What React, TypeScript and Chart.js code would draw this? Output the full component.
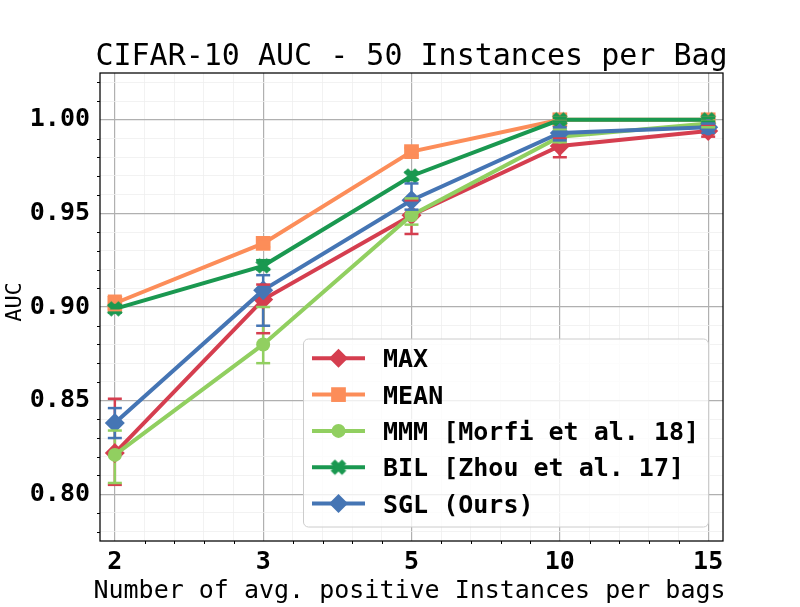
import React, { useEffect, useRef } from 'react';
import { Chart, registerables } from 'chart.js';

Chart.register(...registerables);

// ---------- data ----------
const CATEGORIES = ['2', '3', '5', '10', '15'];
const Y_TICK_LABELS = ['0.80', '0.85', '0.90', '0.95', '1.00'];
const SERIES_NAMES = ['MAX', 'MEAN', 'MMM [Morfi et al. 18]', 'BIL [Zhou et al. 17]', 'SGL (Ours)'];

const MAX_AUC = [0.822, 0.904, 0.949, 0.986, 0.994];
const MEAN_AUC = [0.902, 0.934, 0.983, 1.0, 1.0];
const MMM_AUC = [0.821, 0.88, 0.949, 0.991, 0.998];
const BIL_AUC = [0.899, 0.922, 0.97, 1.0, 1.0];
const SGL_AUC = [0.838, 0.909, 0.957, 0.993, 0.996];

const MAX_LO = [0.805, 0.886, 0.939, 0.98, 0.991];
const MAX_HI = [0.851, 0.912, 0.957, 0.99, 0.997];
const MEAN_LO = [0.898, 0.932, 0.981, 0.999, 0.999];
const MEAN_HI = [0.906, 0.936, 0.985, 1.001, 1.001];
const MMM_LO = [0.806, 0.87, 0.944, 0.988, 0.996];
const MMM_HI = [0.834, 0.9, 0.958, 0.995, 0.999];
const BIL_LO = [0.897, 0.92, 0.968, 0.999, 0.999];
const BIL_HI = [0.901, 0.925, 0.972, 1.001, 1.001];
const SGL_LO = [0.83, 0.89, 0.952, 0.989, 0.993];
const SGL_HI = [0.846, 0.917, 0.966, 0.996, 0.998];

const SERIES_VALUES = [MAX_AUC, MEAN_AUC, MMM_AUC, BIL_AUC, SGL_AUC];
const SERIES_LO = [MAX_LO, MEAN_LO, MMM_LO, BIL_LO, SGL_LO];
const SERIES_HI = [MAX_HI, MEAN_HI, MMM_HI, BIL_HI, SGL_HI];

// ---------- styles ----------
const COLORS = ['#d53e4f', '#fc8d59', '#91cf60', '#1a9850', '#4575b4'];
const MARKERS = ['rectRot', 'rect', 'circle', 'X', 'rectRot'];
const RADII = [10, 10.4, 7, 9, 10];
const MONO = "'DejaVu Sans Mono', monospace";

function makeXMarker(color: string): HTMLCanvasElement {
  const size = 18;
  const c = document.createElement('canvas');
  c.width = size;
  c.height = size;
  const g = c.getContext('2d')!;
  g.translate(size / 2, size / 2);
  g.rotate(Math.PI / 4);
  g.fillStyle = color;
  const s = 8, t = 3;
  g.beginPath();
  g.moveTo(-t, -s); g.lineTo(t, -s); g.lineTo(t, -t); g.lineTo(s, -t); g.lineTo(s, t); g.lineTo(t, t);
  g.lineTo(t, s); g.lineTo(-t, s); g.lineTo(-t, t); g.lineTo(-s, t); g.lineTo(-s, -t); g.lineTo(-t, -t);
  g.closePath();
  g.fill();
  return c;
}

function drawMarker(ctx: CanvasRenderingContext2D, type: any, x: number, y: number, r: number, color: string) {
  ctx.save();
  ctx.fillStyle = color;
  if (typeof type !== 'string') {
    ctx.drawImage(type, x - type.width / 2, y - type.height / 2);
  } else if (type === 'rectRot') {
    ctx.beginPath();
    ctx.moveTo(x, y - r); ctx.lineTo(x + r, y); ctx.lineTo(x, y + r); ctx.lineTo(x - r, y);
    ctx.closePath(); ctx.fill();
  } else if (type === 'rect') {
    const h = r * Math.SQRT1_2;
    ctx.fillRect(x - h, y - h, 2 * h, 2 * h);
  } else {
    ctx.beginPath(); ctx.arc(x, y, r, 0, Math.PI * 2); ctx.fill();
  }
  ctx.restore();
}

const isInt = (v: number) => Math.abs(v - Math.round(v)) < 1e-6;
const isMajorY = (v: number) => Math.abs(v * 20 - Math.round(v * 20)) < 1e-6;

export default function App() {
  const ref = useRef<HTMLCanvasElement>(null);

  useEffect(() => {
    if (!ref.current) return;
    const xMarker = makeXMarker(COLORS[3]);
    const styles = MARKERS.map((m) => (m === 'X' ? xMarker : m));

    const decor = {
      id: 'decor',
      beforeDatasetsDraw(chart: any) {
        const ctx = chart.ctx as CanvasRenderingContext2D;
        const xs = chart.scales.x, ys = chart.scales.y;
        ctx.save();
        ctx.lineWidth = 2.5;
        SERIES_VALUES.forEach((_, i) => {
          ctx.strokeStyle = COLORS[i];
          CATEGORIES.forEach((_c, j) => {
            const px = xs.getPixelForValue(j);
            ctx.beginPath();
            ctx.moveTo(px, ys.getPixelForValue(SERIES_LO[i][j]));
            ctx.lineTo(px, ys.getPixelForValue(SERIES_HI[i][j]));
            ctx.stroke();
          });
        });
        ctx.restore();
      },
      afterDatasetsDraw(chart: any) {
        const ctx = chart.ctx as CanvasRenderingContext2D;
        const xs = chart.scales.x, ys = chart.scales.y;
        ctx.save();
        ctx.lineWidth = 2.5;
        SERIES_VALUES.forEach((_, i) => {
          ctx.strokeStyle = COLORS[i];
          CATEGORIES.forEach((_c, j) => {
            const px = xs.getPixelForValue(j);
            [SERIES_LO[i][j], SERIES_HI[i][j]].forEach((v) => {
              const py = ys.getPixelForValue(v);
              ctx.beginPath();
              ctx.moveTo(px - 7, py);
              ctx.lineTo(px + 7, py);
              ctx.stroke();
            });
          });
        });
        ctx.restore();
      },
      afterDraw(chart: any) {
        const ctx = chart.ctx as CanvasRenderingContext2D;
        const { left, right, top, bottom } = chart.chartArea;
        const xs = chart.scales.x, ys = chart.scales.y;
        ctx.save();
        // spines
        ctx.strokeStyle = '#000';
        ctx.lineWidth = 1.25;
        ctx.strokeRect(left, top, right - left, bottom - top);
        // minor tick marks
        ctx.lineWidth = 1;
        ys.ticks.forEach((t: any) => {
          if (isMajorY(t.value)) return;
          const py = Math.round(ys.getPixelForValue(t.value)) + 0.5;
          ctx.beginPath(); ctx.moveTo(left - 3, py); ctx.lineTo(left, py); ctx.stroke();
        });
        xs.ticks.forEach((t: any) => {
          if (isInt(t.value)) return;
          const px = Math.round(xs.getPixelForValue(t.value)) + 0.5;
          ctx.beginPath(); ctx.moveTo(px, bottom); ctx.lineTo(px, bottom + 3); ctx.stroke();
        });
        // title & axis labels
        ctx.fillStyle = '#000';
        ctx.textAlign = 'center';
        ctx.textBaseline = 'alphabetic';
        ctx.font = `30px ${MONO}`;
        ctx.fillText('CIFAR-10 AUC - 50 Instances per Bag', (left + right) / 2, 65);
        ctx.font = `25px ${MONO}`;
        ctx.fillText('Number of avg. positive Instances per bags', (left + right) / 2 - 2, 598);
        ctx.save();
        ctx.translate(21, 302);
        ctx.rotate(-Math.PI / 2);
        ctx.font = `22px ${MONO}`;
        ctx.fillText('AUC', 0, 0);
        ctx.restore();
        // legend
        const bx = 303.5, by = 339, bw = 405, bh = 188, rr = 5;
        ctx.beginPath();
        ctx.moveTo(bx + rr, by);
        ctx.arcTo(bx + bw, by, bx + bw, by + bh, rr);
        ctx.arcTo(bx + bw, by + bh, bx, by + bh, rr);
        ctx.arcTo(bx, by + bh, bx, by, rr);
        ctx.arcTo(bx, by, bx + bw, by, rr);
        ctx.closePath();
        ctx.fillStyle = 'rgba(255,255,255,0.8)';
        ctx.fill();
        ctx.strokeStyle = '#cccccc';
        ctx.lineWidth = 1;
        ctx.stroke();
        ctx.font = `bold 25px ${MONO}`;
        ctx.textAlign = 'left';
        SERIES_NAMES.forEach((name, i) => {
          const ry = 358.3 + i * 36.3;
          ctx.strokeStyle = COLORS[i];
          ctx.lineWidth = 4;
          ctx.beginPath(); ctx.moveTo(312, ry); ctx.lineTo(365, ry); ctx.stroke();
          drawMarker(ctx, styles[i], 338.5, ry, i === 0 || i === 4 ? 9.5 : RADII[i], COLORS[i]);
          ctx.fillStyle = '#000';
          ctx.fillText(name, 383, ry + 9.1);
        });
        ctx.restore();
      },
    };

    const datasets = SERIES_NAMES.map((name, i) => ({
      label: name,
      data: SERIES_VALUES[i].map((v, j) => ({ x: j, y: v })),
      borderColor: COLORS[i],
      backgroundColor: COLORS[i],
      borderWidth: 4,
      pointStyle: styles[i] as any,
      pointRadius: RADII[i],
      pointBorderWidth: 0,
      pointBackgroundColor: COLORS[i],
      tension: 0,
      order: 5 - i,
    }));

    const chart = new Chart(ref.current, {
      type: 'line',
      data: { datasets },
      plugins: [decor],
      options: {
        animation: false,
        responsive: false,
        events: [],
        layout: { padding: { top: 73, right: 77, bottom: 0, left: 0 } },
        plugins: { legend: { display: false }, title: { display: false }, tooltip: { enabled: false } },
        scales: {
          x: {
            type: 'linear',
            min: -0.1,
            max: 4.1,
            afterBuildTicks: (axis: any) => {
              const t = [];
              for (let k = 0; k <= 20; k++) t.push({ value: k / 5 });
              axis.ticks = t;
            },
            afterFit: (s: any) => { s.height = 66; },
            border: { display: false },
            grid: {
              drawTicks: false,
              color: (c: any) => (isInt(c.tick.value) ? '#b0b0b0' : '#efefef'),
              lineWidth: (c: any) => (isInt(c.tick.value) ? 1.2 : 0.8),
            },
            ticks: {
              autoSkip: false,
              maxRotation: 0,
              padding: 6,
              color: '#000',
              font: { family: MONO, size: 25, weight: 'bold' },
              callback: (v: any) => (isInt(v) ? CATEGORIES[Math.round(v)] : ''),
            },
          },
          y: {
            type: 'linear',
            min: 0.775,
            max: 1.025,
            afterBuildTicks: (axis: any) => {
              const t = [];
              for (let k = 78; k <= 102; k++) t.push({ value: k / 100 });
              axis.ticks = t;
            },
            afterFit: (s: any) => { s.width = 100; },
            border: { display: false },
            grid: {
              drawTicks: false,
              color: (c: any) => (isMajorY(c.tick.value) ? '#b0b0b0' : '#efefef'),
              lineWidth: (c: any) => (isMajorY(c.tick.value) ? 1.2 : 0.8),
            },
            ticks: {
              autoSkip: false,
              padding: 10,
              color: '#000',
              font: { family: MONO, size: 25, weight: 'bold' },
              callback: (v: any) => {
                const l = Y_TICK_LABELS.find((s) => Math.abs(parseFloat(s) - v) < 1e-6);
                return l ?? '';
              },
            },
          },
        },
      },
    });
    return () => chart.destroy();
  }, []);

  return (
    <div style={{ position: 'absolute', left: 0, top: 0, width: 800, height: 607, background: '#fff' }}>
      <canvas ref={ref} width={800} height={607} style={{ display: 'block' }} />
    </div>
  );
}
